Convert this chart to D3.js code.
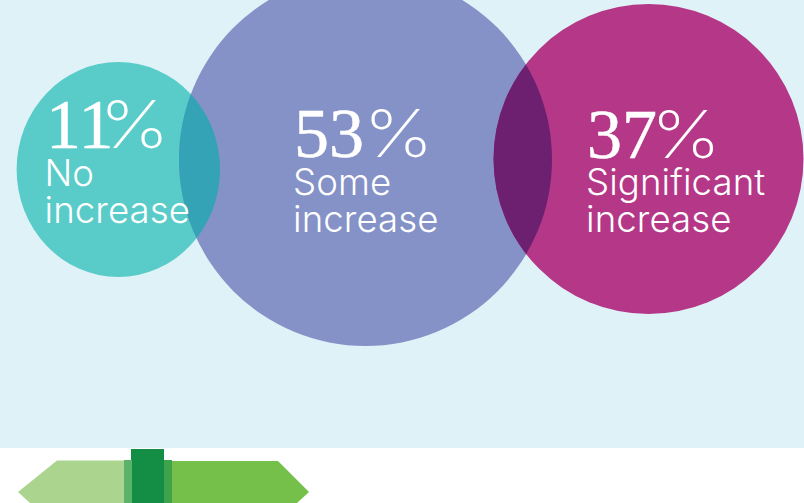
<!DOCTYPE html>
<html><head><meta charset="utf-8">
<script src="https://cdn.jsdelivr.net/npm/d3@7/dist/d3.min.js"></script>
<style>html,body{margin:0;padding:0;background:#fff;overflow:hidden}svg{display:block}</style>
</head><body>
<script>
const categories = ["No increase", "Some increase", "Significant increase"];
const values = [11, 53, 37];
const labels = ["11", "53", "37"];
const labelLines = [["No", "increase"], ["Some", "increase"], ["Significant", "increase"]];
const colors = ["#59CCC9", "#8592C8", "#B53888"];
const overlapColors = ["#33A3B5", "#6C206F"];

const W = 804, H = 503;
const svg = d3.select("body").append("svg").attr("width", W).attr("height", H);
svg.append("rect").attr("width", W).attr("height", 448).attr("fill", "#DFF2F8");

const rx = d3.scaleLinear().domain([11, 37, 53]).range([101.7, 155, 186.5]);
const ry = d3.scaleLinear().domain([11, 37, 53]).range([107.5, 155, 186.5]);
const cx = d3.scaleOrdinal().domain(categories).range([118.3, 365.5, 648.5]);
const cy = d3.scaleOrdinal().domain(categories).range([169.5, 159.5, 159]);
const data = categories.map((c, i) => ({c, v: values[i], l: labels[i], lines: labelLines[i], col: colors[i]}));

const defs = svg.append("defs");
defs.selectAll("clipPath").data(data).join("clipPath").attr("id", (d, i) => "c" + i)
  .append("ellipse").attr("cx", d => cx(d.c)).attr("cy", d => cy(d.c)).attr("rx", d => rx(d.v)).attr("ry", d => ry(d.v));

svg.selectAll("ellipse.b").data(data).join("ellipse").attr("class", "b")
  .attr("cx", d => cx(d.c)).attr("cy", d => cy(d.c)).attr("rx", d => rx(d.v)).attr("ry", d => ry(d.v)).attr("fill", d => d.col);

svg.append("g").attr("clip-path", "url(#c1)").selectAll("ellipse").data([data[0], data[2]]).join("ellipse")
  .attr("cx", d => cx(d.c)).attr("cy", d => cy(d.c)).attr("rx", d => rx(d.v)).attr("ry", d => ry(d.v))
  .attr("fill", (d, i) => overlapColors[i]);

const numX = [46, 294, 587], numY = [148, 157, 157.5], pctX = [99.5, 363.5, 651], txtX = [44.5, 293, 586], txtY = [186, 195, 195], lh = 37;
const g = svg.append("g").attr("fill", "#fff");
data.forEach((d, i) => {
  g.append("text").attr("x", numX[i]).attr("y", numY[i]).text(d.l)
    .attr("font-family", "'Liberation Serif',serif").attr("font-size", 70)
    .attr("stroke", "#fff").attr("stroke-width", 0.5);
  g.append("text").attr("x", pctX[i]).attr("y", numY[i]).text("%")
    .attr("font-family", "Inter, sans-serif").attr("font-weight", 250).attr("font-size", 66)
    .attr("textLength", 70).attr("lengthAdjust", "spacingAndGlyphs");
  d.lines.forEach((s, j) => g.append("text").attr("x", txtX[i]).attr("y", txtY[i] + j * lh).text(s)
    .attr("font-family", "Inter, Lato, sans-serif").attr("font-weight", 300).attr("font-size", 36.6).attr("letter-spacing", 0.1));
});

const post = svg.append("g");
const poly = (pts, fill) => post.append("polygon").attr("points", pts.map(p => p.join(",")).join(" ")).attr("fill", fill);
poly([[18,492],[57,460.5],[132,460.5],[132,503],[30,503]], "#ABD58E");
poly([[164,461],[278,461],[309,492],[297,503],[164,503]], "#74C04A");
poly([[124,460],[132,460],[132,503],[124,503]], "#5BB36B");
poly([[164,460],[172,460],[172,503],[164,503]], "#3FA34B");
poly([[131,449],[164,449],[164,503],[132,503],[132,460],[131,460]], "#148E45");
</script>
</body></html>
